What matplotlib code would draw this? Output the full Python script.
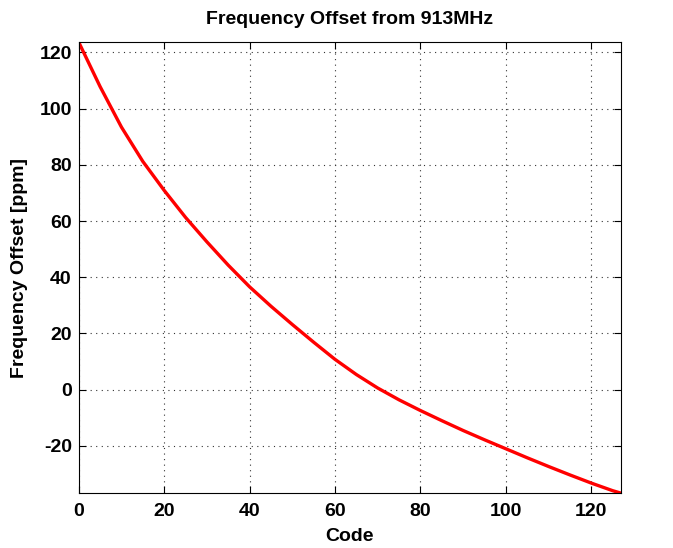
import numpy as np
import matplotlib.pyplot as plt

# значения
code = [0, 5, 10, 15, 20, 25, 30, 35, 40, 45, 50, 55, 60, 65, 70,
        75, 80, 85, 90, 95, 100, 105, 110, 115, 120, 125, 127]
offset_ppm = [123.6, 107.8, 93.4, 81.2, 70.9, 61.3, 52.6, 44.3, 36.6, 29.7,
              23.2, 16.9, 10.8, 5.4, 0.6, -3.6, -7.4, -11.0, -14.5, -17.8,
              -21.0, -24.2, -27.3, -30.3, -33.2, -35.9, -36.8]

plt.rcParams['font.family'] = ['Liberation Sans', 'DejaVu Sans']
plt.rcParams['font.weight'] = 'bold'
plt.rcParams['axes.unicode_minus'] = False

fig = plt.figure(figsize=(6.73, 5.48), dpi=100)
ax = fig.add_axes([0.117, 0.100, 0.806, 0.823])

ax.plot(code, offset_ppm, color='red', linewidth=2.4)

ax.set_xlim(0, 127)
ax.set_ylim(-36.8, 123.6)
ax.set_xticks(np.arange(0, 121, 20))
ax.set_yticks(np.arange(-20, 121, 20))
ax.grid(True, linestyle=(0, (1, 4)), color='#333333', linewidth=0.8)
ax.tick_params(direction='in', top=True, right=True, labelsize=14, length=5)
ax.tick_params(axis='x', pad=7)
ax.tick_params(axis='y', pad=5)
for lbl in ax.get_xticklabels() + ax.get_yticklabels():
    lbl.set_fontweight('bold')

ax.set_title("Frequency Offset from 913MHz", fontsize=14, fontweight='bold', pad=13)
ax.set_xlabel("Code", fontsize=14, fontweight='bold', labelpad=6)
ax.set_ylabel("Frequency Offset [ppm]", fontsize=14, fontweight='bold', labelpad=8)

fig.savefig('out.png', dpi=100)
